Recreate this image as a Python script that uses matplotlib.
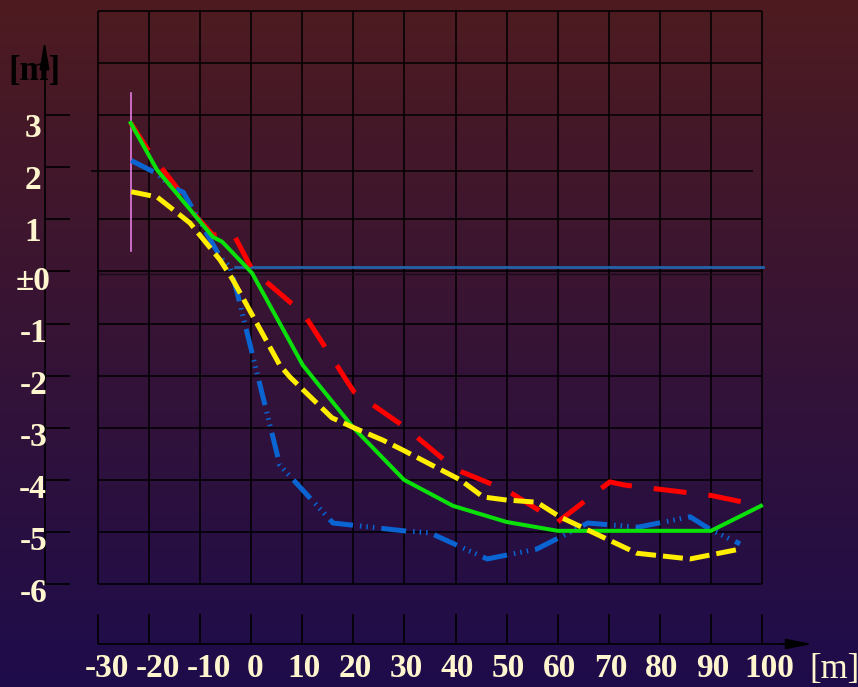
import numpy as np
import matplotlib
matplotlib.use("Agg")
import matplotlib.pyplot as plt

# profile values
green_x = [-23.6, -18.45, -7.5, -5.7, 0.15, 10.1, 19.9, 29.9, 39.5, 50.0, 60.0, 90.0, 99.8]
green_y = [2.85, 1.95, 0.66, 0.57, -0.03, -1.80, -2.99, -4.00, -4.50, -4.81, -4.98, -4.98, -4.50]

red_x = [-23.6, -19.8, -14.5, -12.4, -7.5, -3.6, 0.2, 10.1, 11.5, 18.7, 20.1, 30.1, 40.0,
         50.0, 60.0, 70.2, 73.0, 90.0, 99.8]
red_y = [2.85, 2.27, 1.60, 1.24, 0.70, 0.74, 0.03, -0.80, -1.00, -2.10, -2.31, -2.99, -3.80,
         -4.20, -4.81, -4.04, -4.10, -4.30, -4.50]

blue_x = [-23.5, -18.5, -15.5, -13.3, -6.1, -4.2, -2.8, 5.6, 16.0, 29.9, 35.0, 46.2, 55.9,
          65.9, 75.7, 85.9, 90.0, 95.7]
blue_y = [2.13, 1.88, 1.62, 1.52, 0.28, 0.09, -0.39, -3.72, -4.83, -4.98, -5.02, -5.52, -5.33,
          -4.83, -4.91, -4.71, -4.96, -5.23]

yellow_x = [-23.5, -18.45, -16.5, -12.0, -6.1, -3.6, 5.6, 7.6, 15.8, 20.3, 25.8, 29.7, 40.9,
            45.4, 50.1, 55.9, 60.4, 75.5, 85.9, 95.7]
yellow_y = [1.53, 1.43, 1.28, 0.93, 0.22, -0.16, -1.80, -2.03, -2.81, -3.01, -3.24, -3.43, -4.00,
            -4.33, -4.39, -4.43, -4.71, -5.41, -5.52, -5.33]

level_x = [-3.2, 100.2]
level_y = [0.085, 0.085]
pink_x = [-23.6, -23.6]
pink_y = [0.39, 3.43]

x_ticks = [-30, -20, -10, 0, 10, 20, 30, 40, 50, 60, 70, 80, 90, 100]
y_ticks = [3, 2, 1, 0, -1, -2, -3, -4, -5, -6]
y_labels = ["3", "2", "1", "\u00b10", "-1", "-2", "-3", "-4", "-5", "-6"]
y_grid = [5, 4, 3, 1, 0, -1, -2, -3, -4, -5, -6]

cream = "#fff6cf"
font = dict(family="Liberation Serif", weight="bold", size=24)
unit_font = dict(family="Liberation Serif", size=25)

fig = plt.figure(figsize=(8.58, 6.87), dpi=100)
ax = fig.add_axes([0, 0, 1, 1])
xmin, xmax = -49.19, 118.79
ymin, ymax = -7.978, 5.211
ax.set_xlim(xmin, xmax)
ax.set_ylim(ymin, ymax)
ax.axis("off")

# background gradient, dark red at top to navy at bottom
top = np.array([78, 27, 32]) / 255
bot = np.array([30, 12, 75]) / 255
t = np.linspace(0, 1, 256)[:, None]
grad = (top * (1 - t) + bot * t)[:, None, :]
ax.imshow(grad, extent=[xmin, xmax, ymin, ymax], aspect="auto", zorder=0)

# grid
ax.vlines(x_ticks, -6, 5, color="black", lw=1.1, zorder=1)
ax.hlines(y_grid, -30, 100, color="black", lw=1.1, zorder=1)
ax.hlines([1.93], -31.4, 98.2, color="black", lw=1.1, zorder=1)
ax.hlines([-0.04], -30, 100, color="#1a0a18", lw=1.0, zorder=1)

# y axis with arrow
yax = -40.47
ax.vlines([yax], -6, 4.0, color="black", lw=1.2, zorder=1)
ax.annotate("", xy=(yax, 4.42), xytext=(yax, 3.9),
            arrowprops=dict(arrowstyle="-|>,head_length=1.7,head_width=0.3",
                            color="black", lw=1.2, shrinkA=0, shrinkB=0))
ax.hlines(y_ticks, yax, -35.5, color="black", lw=1.2, zorder=1)
for v, s in zip(y_ticks, y_labels):
    off = 0.25 if v > 0 else 0.19
    ax.text(-42.7, v - off, s, color=cream, ha="center", va="center", **font)
ax.text(-42.5, 3.83, "[m]", color="black", ha="center", va="center", zorder=0.5,
        family="Liberation Serif", weight="bold", size=25)

# x axis with arrow
xay = -7.152
ax.hlines([xay], -30, 106, color="black", lw=1.2, zorder=1)
ax.annotate("", xy=(109.8, xay), xytext=(104, xay),
            arrowprops=dict(arrowstyle="-|>,head_length=1.6,head_width=0.32",
                            color="black", lw=1.2, shrinkA=0, shrinkB=0))
ax.vlines(x_ticks, xay, -6.576, color="black", lw=1.2, zorder=1)
for v in x_ticks:
    if v < 0:
        dx = 1.8
    elif v == 100:
        dx = 1.5
    elif v == 0:
        dx = 0.8
    else:
        dx = 0.3
    ax.text(v + dx, -7.62, str(v), color=cream, ha="center", va="center", **font)
ax.text(114.1, -7.65, "[m]", color=cream, ha="center", va="center", **unit_font)

# profiles
ax.plot(level_x, level_y, color="#2362a8", lw=2.0, zorder=2)
ax.plot(pink_x, pink_y, color="#e27be0", lw=1.2, zorder=2)
ax.plot(red_x, red_y, color="#ff0000", lw=3.6, ls=(0, (6.6, 4.4)), zorder=3)
ax.plot(blue_x, blue_y, color="#0a64d2", lw=3.6,
        ls=(0, (5, 1.4, 0.3, 1.0, 0.3, 1.0, 0.3, 1.4)), zorder=4)
ax.plot(green_x, green_y, color="#0be00b", lw=2.9, zorder=5)
ax.plot(yellow_x, yellow_y, color="#ffee00", lw=3.6, ls=(0, (4, 1.4)), zorder=6)

fig.savefig("out.png", dpi=100)
